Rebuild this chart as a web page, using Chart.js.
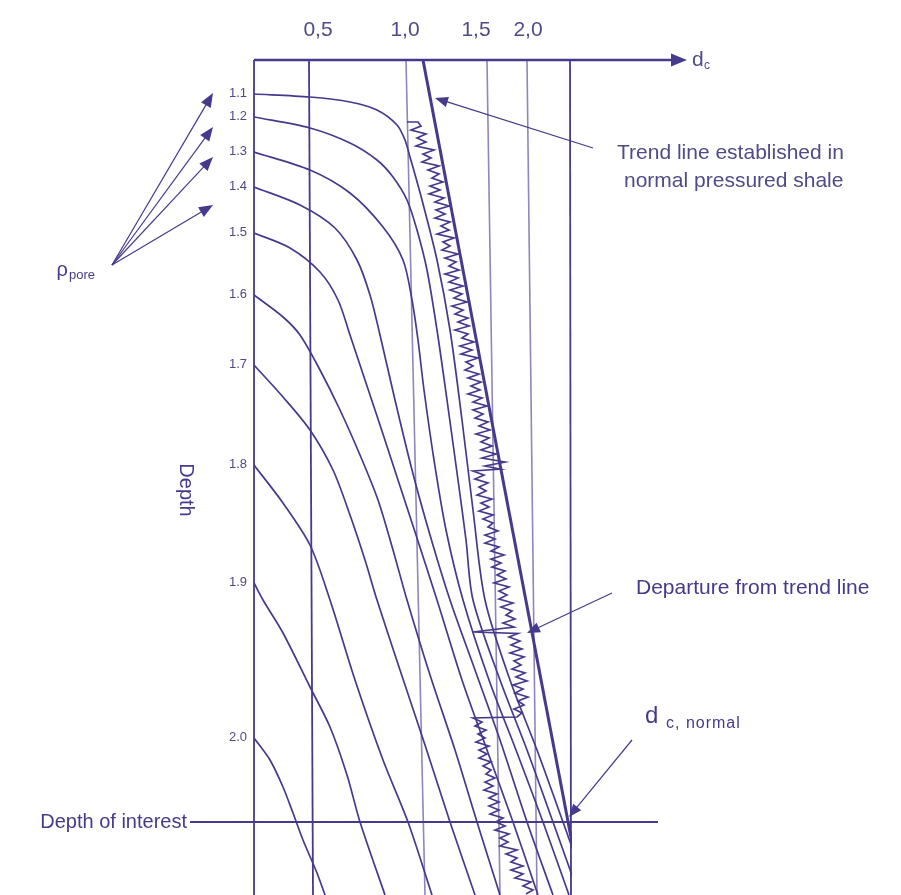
<!DOCTYPE html>
<html>
<head>
<meta charset="utf-8">
<script src="https://cdn.jsdelivr.net/npm/chart.js@4.4.1/dist/chart.umd.min.js"></script>
<style>
  html, body { margin: 0; padding: 0; background: #ffffff; }
  #wrap { width: 901px; height: 895px; position: relative; }
</style>
</head>
<body>
<div id="wrap"><canvas id="chart"></canvas></div>
<script>
// ---- dc axis (schematic horizontal units; depth in schematic units, increasing downward)
const dcTickPos    = [6.4, 15.1, 22.2, 27.4];
const dcTickLabels = ['0,5', '1,0', '1,5', '2,0'];

// reference verticals of the panel: x at the top and at the bottom edge
const guideTop    = [0, 5.5, 15.2, 23.3, 27.3, 31.6];
const guideBottom = [0, 5.9, 17.1, 24.6, 28.3, 31.7];

// pore-pressure gradient overlay curves (x, depth)
const poreGradients = ['1.1', '1.2', '1.3', '1.4', '1.5', '1.6', '1.7', '1.8', '1.9', '2.0'];
const curve11 = [[0,3.4],[5.6,3.7],[9.6,4.2],[12.3,5.0],[14.3,6.5],[15.1,8.0],[15.6,9.7],[16.8,14],[18.3,20],[19.6,27],[20.8,36],[21.9,45],[23.1,54],[25.6,62],[28.3,69],[30.9,76.2],[33.5,83.5]];
const curve12 = [[0,5.7],[5.6,6.8],[9.6,8.3],[12.3,10],[13.9,11.7],[15.3,14],[16.3,17],[17.3,21],[18.3,27],[19.3,34],[20.4,42],[21.2,48],[21.9,54],[24.6,62],[27.3,69],[29.9,76.2],[32.5,83.5]];
const curve13 = [[0,9.2],[5.6,11],[9.6,13.3],[12.9,16.7],[14.9,20],[15.8,24],[16.4,28],[17.0,33],[18.0,40],[19.2,47],[20.9,54],[23.5,62],[26.2,69],[28.9,76.2],[31.5,83.5]];
const curve14 = [[0,12.7],[4.6,14.5],[8.1,16.8],[10.3,20],[11.6,23.5],[12.6,27.5],[14.1,34],[15.8,41],[17.6,47.5],[19.6,54],[22.1,61],[24.6,68],[27.3,76.2],[29.9,83.5]];
const curve15 = [[0,17.3],[3.6,18.8],[6.6,21.2],[8.4,24],[9.6,27.5],[11.1,32],[12.6,36.5],[14.4,42],[16.2,47.5],[18.3,54],[20.8,62],[23.3,69],[25.9,76.2],[28.4,83.5]];
const curve16 = [[0,23.5],[2.9,25.7],[4.6,27.5],[6.6,31],[8.6,35],[10.6,39.5],[12.4,44],[13.9,49],[15.3,54],[17.6,61.5],[20.1,69],[22.3,76.2],[24.6,83.5]];
const curve17 = [[0,30.5],[2.9,33.7],[5.6,37],[7.9,41],[9.6,45.5],[11.1,50],[12.3,54],[14.6,61],[17.1,68.5],[19.6,76.2],[22.1,83.5]];
const curve18 = [[0,40.5],[2.9,44.3],[5.6,48.5],[7.6,54],[10.1,62],[12.9,70],[15.4,76.2],[17.8,83.5]];
const curve19 = [[0,52.3],[0.9,54],[2.9,57.3],[5.6,62.7],[7.6,66.7],[9.3,71.5],[10.6,76.2],[13.1,83.5]];
const curve20 = [[0,67.8],[1.6,70],[2.9,72.7],[3.9,75.3],[4.9,78],[6.3,81.3],[7.1,83.5]];

// normal compaction trend established in the shale
const trendLine = [[16.9,0],[32.8,83.5]];

// plotted dc-exponent log (x, depth)
const dcLog = [
  [15.3,6.2],[16.4,6.2],[16.7,6.6],[15.7,7.0],[17.2,7.4],[16.3,7.8],[17.2,8.2],[16.2,8.6],[18.0,9.0],[16.9,9.4],
  [17.7,9.8],[16.8,10.2],[18.5,10.6],[17.4,11.0],[18.5,11.4],[17.8,11.8],[18.9,12.2],[17.6,12.6],[18.6,13.0],[17.5,13.4],
  [19.0,13.8],[18.1,14.2],[19.5,14.6],[18.2,15.0],[19.1,15.4],[18.1,15.8],[19.6,16.2],[18.7,16.6],[19.5,17.0],[18.3,17.4],
  [20.0,17.8],[18.9,18.2],[19.6,18.6],[18.8,19.0],[20.4,19.4],[19.1,19.8],[20.2,20.2],[19.5,20.6],[20.5,21.0],[19.1,21.4],
  [20.4,21.8],[19.5,22.2],[20.9,22.6],[19.6,23.0],[20.8,23.4],[20.0,23.8],[21.3,24.2],[19.8,24.6],[20.9,25.0],[20.1,25.4],
  [21.4,25.8],[20.4,26.2],[21.5,26.6],[20.1,27.0],[21.4,27.4],[20.8,27.8],[22.0,28.2],[20.6,28.6],[21.8,29.0],[20.7,29.4],
  [22.4,29.8],[21.2,30.2],[21.9,30.6],[21.1,31.0],[22.5,31.4],[21.4,31.8],[22.7,32.2],[21.7,32.6],[22.6,33.0],[21.4,33.4],
  [22.8,33.8],[21.9,34.2],[23.3,34.6],[21.9,35.0],[22.9,35.4],[22.1,35.8],[23.4,36.2],[22.5,36.6],[23.6,37.0],[22.2,37.4],
  [23.5,37.8],[22.7,38.2],[23.8,38.6],[22.7,39.0],[24.2,39.4],[22.8,39.8],[25.1,40.2],[23.1,40.6],[24.6,40.9],[21.9,41.1],
  [23.0,41.5],[22.1,41.9],[23.4,42.3],[22.5,42.7],[23.2,43.1],[22.3,43.5],[23.8,43.9],[22.7,44.3],[23.5,44.7],[22.5,45.1],
  [23.9,45.5],[22.9,45.9],[23.9,46.3],[23.4,46.7],[24.4,47.1],[23.1,47.5],[24.1,47.9],[23.1,48.3],[24.5,48.7],[23.7,49.1],
  [25.0,49.5],[23.7,49.9],[24.7,50.3],[23.8,50.7],[25.1,51.1],[24.3,51.5],[25.2,51.9],[24.0,52.3],[25.5,52.7],[24.5,53.1],
  [25.3,53.5],[24.5,53.9],[25.9,54.3],[24.7,54.7],[25.8,55.1],[25.2,55.5],[26.1,55.9],[24.9,56.3],[26.0,56.7],
  [21.9,57.2],[26.4,57.35],[25.5,57.7],[26.6,58.1],[25.7,58.5],[26.8,58.9],[25.6,59.3],[27.0,59.7],[26.0,60.1],[26.7,60.5],
  [25.8,60.9],[27.1,61.3],[26.2,61.7],[27.3,62.1],[25.9,62.5],[26.9,62.9],[26.1,63.3],[27.4,63.7],[26.4,64.1],[27.0,64.5],
  [26.0,64.9],[26.8,65.3],[26.3,65.7],[21.9,65.8],
  [22.8,66.2],[22.1,66.6],[23.2,67.0],[22.4,67.4],[23.1,67.8],[22.2,68.2],[23.5,68.6],[22.5,69.0],[23.3,69.4],[22.5,69.8],
  [23.7,70.2],[22.9,70.6],[23.7,71.0],[23.2,71.4],[24.1,71.8],[23.1,72.2],[23.9,72.6],[23.0,73.0],[24.3,73.4],[23.5,73.8],
  [24.5,74.2],[23.5,74.6],[24.5,75.0],[23.6,75.4],[24.9,75.8],[24.2,76.2],[25.1,76.6],[24.1,77.0],[25.5,77.4],[24.6,77.8],
  [25.4,78.2],[24.6,78.6],[26.3,79.0],[25.2,79.4],[26.3,79.8],[25.7,80.2],[26.9,80.6],[25.7,81.0],[26.9,81.4],[26.1,81.8],
  [27.7,82.2],[26.9,82.6],[27.9,83.0],[27.2,83.4]
];

// depth of interest (horizontal reference)
const depthOfInterest = 76.2;
const interestSpan = [-6.4, 40.4];

// ---- styling and annotation placement (chart units)
const INK = '#463a8c';
const INK_LIGHT = '#8d87bd';
const TEXT = '#4f4a88';
const FONT = '"Liberation Sans", Arial, sans-serif';
const NARROW = '"Liberation Sans Narrow", "Liberation Sans", Arial, sans-serif';

const notes = {
  trend:     { lines: ['Trend line established in', 'normal pressured shale'], at: [[36.3, 9.3], [37.0, 12.1]], from: [33.9, 8.8], to: [18.1, 3.8] },
  departure: { text: 'Departure from trend line', at: [38.2, 52.8], from: [35.8, 53.3], to: [27.3, 57.3] },
  dcNormal:  { at: [39.1, 65.6], from: [37.8, 68.0], to: [31.5, 75.7] },
  interest:  { text: 'Depth of interest', at: [-6.7, 76.2] },
  depth:     { text: 'Depth', at: [-6.8, 43.0] },
  rho:       { at: [-15.9, 21.0], from: [-14.2, 20.5], to: [[-4.1, 3.3], [-4.1, 6.7], [-4.1, 9.7], [-4.1, 14.5]] },
  axisEnd:   43.3
};

const toXY = arr => arr.map(p => ({ x: p[0], y: p[1] }));
const curves = [curve11, curve12, curve13, curve14, curve15, curve16, curve17, curve18, curve19, curve20];

const datasets = [];
guideTop.forEach((xt, i) => {
  const border = (i === 0 || i === guideTop.length - 1 || i === 1);
  datasets.push({
    label: 'guide', data: toXY([[xt, 0], [guideBottom[i], 83.5]]),
    borderColor: border ? INK : INK_LIGHT, borderWidth: border ? 1.8 : 1.6,
    showLine: true, pointRadius: 0, clip: false, order: 5
  });
});
curves.forEach((c, i) => {
  datasets.push({
    label: poreGradients[i], data: toXY(c), borderColor: INK, borderWidth: 1.7,
    showLine: true, pointRadius: 0, tension: 0.3, order: 3, isCurve: true
  });
});
datasets.push({
  label: 'Trend line', data: toXY(trendLine), borderColor: INK, borderWidth: 3,
  showLine: true, pointRadius: 0, order: 1
});
datasets.push({
  label: 'dc', data: toXY(dcLog), borderColor: INK, borderWidth: 1.7,
  showLine: true, pointRadius: 0, tension: 0, order: 2
});
datasets.push({
  label: 'Depth of interest', data: toXY([[interestSpan[0], depthOfInterest], [interestSpan[1], depthOfInterest]]),
  borderColor: INK, borderWidth: 1.8, showLine: true, pointRadius: 0, clip: false, order: 4
});

function arrow(ctx, x1, y1, x2, y2, head, color, width) {
  const a = Math.atan2(y2 - y1, x2 - x1);
  ctx.strokeStyle = color; ctx.fillStyle = color; ctx.lineWidth = width;
  ctx.beginPath(); ctx.moveTo(x1, y1);
  ctx.lineTo(x2 - Math.cos(a) * head * 0.8, y2 - Math.sin(a) * head * 0.8); ctx.stroke();
  ctx.beginPath();
  ctx.moveTo(x2, y2);
  ctx.lineTo(x2 - head * Math.cos(a) + head * 0.4 * Math.sin(a), y2 - head * Math.sin(a) - head * 0.4 * Math.cos(a));
  ctx.lineTo(x2 - head * Math.cos(a) - head * 0.4 * Math.sin(a), y2 - head * Math.sin(a) + head * 0.4 * Math.cos(a));
  ctx.closePath(); ctx.fill();
}

const decorations = {
  id: 'decorations',
  afterDatasetsDraw(chart) {
    const { ctx, scales: { x, y }, chartArea } = chart;
    const px = v => x.getPixelForValue(v), py = v => y.getPixelForValue(v);
    ctx.save();

    // dc axis line with arrow
    arrow(ctx, px(0), chartArea.top, px(notes.axisEnd), chartArea.top, 16, INK, 2.4);
    ctx.fillStyle = TEXT; ctx.textBaseline = 'middle'; ctx.textAlign = 'left';
    ctx.font = '21px ' + FONT; ctx.fillText('d', px(notes.axisEnd) + 5, chartArea.top);
    ctx.font = '12px ' + FONT; ctx.fillText('c', px(notes.axisEnd) + 17, chartArea.top + 6);

    // curve labels at the start of each overlay curve
    ctx.font = '13px ' + NARROW; ctx.textAlign = 'right';
    chart.data.datasets.forEach(ds => {
      if (!ds.isCurve) return;
      const p = ds.data[0];
      ctx.fillText(ds.label, px(p.x) - 7, py(p.y) - 1);
    });

    // trend annotation
    ctx.font = '21px ' + FONT; ctx.textAlign = 'left';
    notes.trend.lines.forEach((t, i) => ctx.fillText(t, px(notes.trend.at[i][0]), py(notes.trend.at[i][1])));
    arrow(ctx, px(notes.trend.from[0]), py(notes.trend.from[1]), px(notes.trend.to[0]), py(notes.trend.to[1]), 13, INK, 1.2);

    // departure annotation
    ctx.fillText(notes.departure.text, px(notes.departure.at[0]), py(notes.departure.at[1]));
    arrow(ctx, px(notes.departure.from[0]), py(notes.departure.from[1]), px(notes.departure.to[0]), py(notes.departure.to[1]), 13, INK, 1.2);

    // dc normal annotation
    const dx = px(notes.dcNormal.at[0]), dy = py(notes.dcNormal.at[1]);
    ctx.font = '24px ' + FONT; ctx.fillText('d', dx, dy);
    ctx.font = '16px ' + FONT;
    if ('letterSpacing' in ctx) ctx.letterSpacing = '1px';
    ctx.fillText('c, normal', dx + 21, dy + 8);
    if ('letterSpacing' in ctx) ctx.letterSpacing = '0px';
    arrow(ctx, px(notes.dcNormal.from[0]), py(notes.dcNormal.from[1]), px(notes.dcNormal.to[0]), py(notes.dcNormal.to[1]), 13, INK, 1.2);

    // depth of interest label
    ctx.font = '20px ' + FONT; ctx.textAlign = 'right';
    ctx.fillText(notes.interest.text, px(notes.interest.at[0]), py(notes.interest.at[1]));

    // vertical depth label
    ctx.save();
    ctx.translate(px(notes.depth.at[0]), py(notes.depth.at[1]));
    ctx.rotate(Math.PI / 2);
    ctx.textAlign = 'center'; ctx.font = '20px ' + FONT;
    ctx.fillText(notes.depth.text, 0, 0);
    ctx.restore();

    // pore-pressure label (right edge at anchor) with its arrows
    const rx = px(notes.rho.at[0]), ry = py(notes.rho.at[1]);
    ctx.textAlign = 'left';
    ctx.font = '13px ' + FONT;
    const subW = ctx.measureText('pore').width;
    ctx.font = '20px ' + FONT;
    const rhoW = ctx.measureText('\u03C1').width;
    const left = rx - subW - rhoW - 1;
    ctx.fillText('\u03C1', left, ry);
    ctx.font = '13px ' + FONT; ctx.fillText('pore', left + rhoW + 1, ry + 5);
    notes.rho.to.forEach(t => arrow(ctx, px(notes.rho.from[0]), py(notes.rho.from[1]), px(t[0]), py(t[1]), 14, INK, 1.2));

    ctx.restore();
  }
};

new Chart(document.getElementById('chart'), {
  type: 'scatter',
  data: { datasets },
  options: {
    responsive: true,
    maintainAspectRatio: false,
    animation: false,
    events: [],
    layout: { padding: { left: 254, right: 329, top: 0, bottom: 0 } },
    scales: {
      x: {
        type: 'linear', position: 'top', min: 0, max: 31.8,
        afterBuildTicks: s => { s.ticks = dcTickPos.map(v => ({ value: v })); },
        ticks: {
          callback: (v, i) => dcTickLabels[i],
          font: { family: FONT, size: 21 }, color: TEXT, padding: 17.4,
          maxRotation: 0, autoSkip: false
        },
        grid: { display: false, drawTicks: false },
        border: { display: false }
      },
      y: { type: 'linear', reverse: true, min: 0, max: 83.5, display: false }
    },
    plugins: { legend: { display: false }, tooltip: { enabled: false } }
  },
  plugins: [decorations]
});
</script>
</body>
</html>
